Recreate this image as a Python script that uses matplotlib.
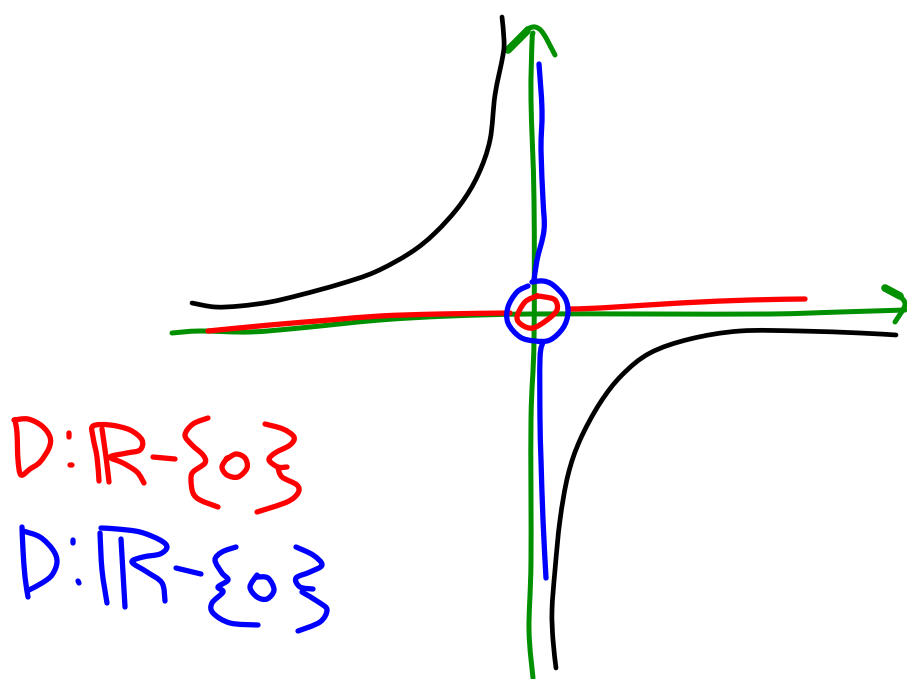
import matplotlib
matplotlib.use("Agg")
import matplotlib.pyplot as plt
from matplotlib.patches import PathPatch
from matplotlib.path import Path

# everything in pixel coordinates

# black hyperbola branches
black_upper = [(192,303),(215,307),(240,306),(270,302),(300,295),(340,284),(375,272),(410,253),(435,233),(460,205),(478,175),(490,140),(495,95),(503,55),(504,40),(502,17)]
black_lower = [(896,335),(860,333),(800,331),(740,331),(690,339),(650,353),(622,375),(600,403),(580,440),(568,475),(560,520),(555,570),(552,610),(553,640),(556,668)]

# green axes
green_x = [(172,333),(200,331),(250,332),(300,328),(380,320),(450,316),(530,314),(650,314),(770,314),(840,312),(905,310)]
green_x_head = [(900,296),(905,305),(895,322)]
green_x_barb = [(885,288),(900,296)]
green_y = [(533,678),(529,630),(531,560),(531,420),(534,340),(534,200),(531,100),(532,42),(533,33)]
green_y_head = [(527,29),(535,27),(543,33),(555,55)]
green_y_barb = [(508,50),(527,31)]

# red domain line
red_left = [(208,331),(270,325),(330,320),(380,316),(440,314),(510,313)]
red_right = [(568,309),(600,308),(680,303),(750,300),(805,299)]
red_ring = [(537,296),(525,302),(517,317),(522,325),(533,328),(547,320),(557,310),(555,300),(545,297),(537,296)]

# blue range line
blue_top = [(539,64),(542,110),(541,150),(543,200),(544,230),(537,260),(534,281)]
blue_bottom = [(543,342),(540,358),(540,420),(541,460),(543,520),(546,578)]
blue_ring = [(528,286),(517,292),(508,307),(508,323),(520,337),(535,341),(550,340),(563,328),(568,313),(565,298),(553,285),(543,281),(532,282)]

# handwritten red D: R-{0}
red_d = [(14,420),(28,419),(42,426),(50,437),(49,448),(40,462),(30,469),(21,475),(18,460),(17,433),(15,420)]
red_colon_a = [(69,433),(69,437)]
red_colon_b = [(70,465),(72,465)]
red_r_outer = [(99,481),(97,457),(93,437),(93,426),(110,425),(130,430),(142,440),(140,450),(127,453),(110,457),(123,463),(137,472),(144,483)]
red_r_inner = [(102,429),(106,457),(109,482)]
red_dash = [(153,457),(175,459)]
red_open = [(208,418),(193,424),(185,435),(192,445),(203,455),(205,463),(193,472),(191,480),(193,493),(200,500),(218,507)]
red_zero = [(227,458),(222,467),(227,475),(238,477),(247,468),(245,458),(236,454),(227,459)]
red_close_a = [(265,424),(283,429),(294,437),(290,445),(275,453),(269,460),(278,467),(287,467)]
red_close_b = [(278,468),(282,477),(297,485),(298,493),(287,502),(257,512)]

# handwritten blue D: R-{0}
blue_d_stem = [(22,527),(23,550),(25,577),(28,597)]
blue_d_bow = [(23,531),(40,537),(53,550),(57,562),(52,575),(42,583),(29,590)]
blue_colon_a = [(73,540),(73,543)]
blue_colon_b = [(78,581),(79,583)]
blue_r_bow = [(101,528),(117,529),(140,532),(160,540),(167,547),(160,554),(143,557),(132,562),(147,572),(162,583),(165,601)]
blue_r_left = [(100,533),(102,570),(107,603)]
blue_r_right = [(121,539),(123,573),(125,607)]
blue_dash = [(176,568),(201,574)]
blue_open = [(236,547),(222,552),(215,560),(222,573),(228,580),(218,587),(223,592),(212,603),(213,613),(230,623),(258,625)]
blue_zero = [(257,575),(250,587),(257,597),(267,599),(274,590),(268,578),(257,577)]
blue_close_a = [(296,547),(313,555),(322,565),(310,572),(296,578),(300,587),(313,589)]
blue_close_b = [(302,592),(320,603),(327,610),(320,622),(298,631)]

green_strokes = [green_x, green_x_head, green_y, green_y_head]
green_barbs = [green_x_barb, green_y_barb]
red_strokes = [red_left, red_right, red_ring, red_d, red_colon_a, red_colon_b, red_r_outer,
               red_r_inner, red_dash, red_open, red_zero, red_close_a, red_close_b]
blue_strokes = [blue_top, blue_bottom, blue_ring, blue_d_stem, blue_d_bow, blue_colon_a, blue_colon_b,
                blue_r_bow, blue_r_left, blue_r_right, blue_dash, blue_open, blue_zero,
                blue_close_a, blue_close_b]
black_strokes = [black_upper, black_lower]


def draw(ax, strokes, color, lw):
    # bezier segments through the read points so the pen strokes stay round
    for s in strokes:
        verts = [s[0]]
        codes = [Path.MOVETO]
        for i in range(len(s) - 1):
            p0 = s[max(i - 1, 0)]
            p1 = s[i]
            p2 = s[i + 1]
            p3 = s[min(i + 2, len(s) - 1)]
            verts.append((p1[0] + (p2[0] - p0[0]) / 6, p1[1] + (p2[1] - p0[1]) / 6))
            verts.append((p2[0] - (p3[0] - p1[0]) / 6, p2[1] - (p3[1] - p1[1]) / 6))
            verts.append(p2)
            codes += [Path.CURVE4] * 3
        ax.add_patch(PathPatch(Path(verts, codes), fill=False, edgecolor=color, lw=lw,
                               capstyle="round", joinstyle="round"))


fig = plt.figure(figsize=(9.07, 6.79), dpi=100)
ax = fig.add_axes([0, 0, 1, 1])
ax.set_xlim(0, 907)
ax.set_ylim(679, 0)
ax.axis("off")

draw(ax, green_strokes, "#009000", 3.6)
draw(ax, green_barbs, "#009000", 5.5)
draw(ax, black_strokes, "black", 3.4)
draw(ax, red_strokes, "#ff0000", 3.8)
draw(ax, blue_strokes, "#0000ff", 3.8)

fig.savefig("out.png", dpi=100)
